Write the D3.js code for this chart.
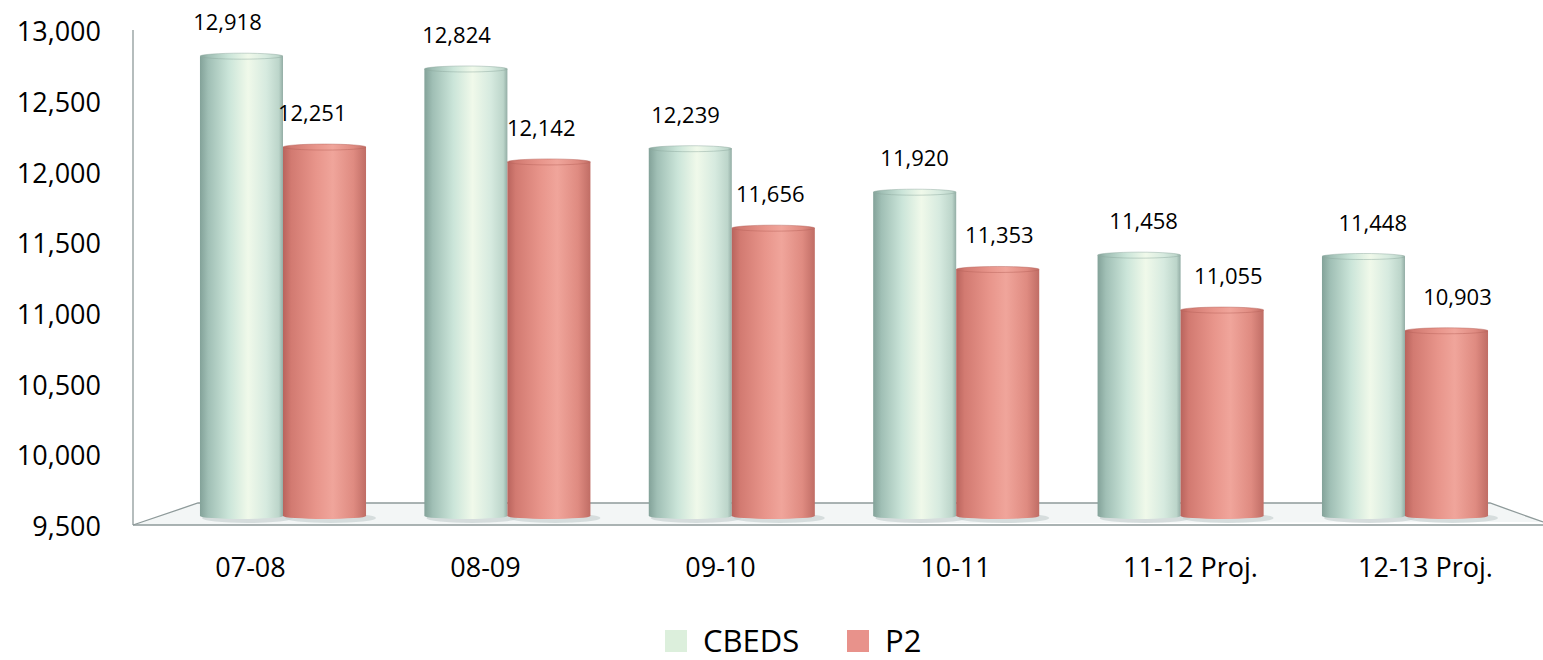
<!DOCTYPE html>
<html>
<head>
<meta charset="utf-8">
<script src="https://cdn.jsdelivr.net/npm/d3@7"></script>
<style>
  body { margin: 0; background: #fff; }
  svg { display: block; font-family: 'Open Sans', sans-serif; }
</style>
</head>
<body>
<svg id="chart"></svg>
<script>
const categories = ['07-08', '08-09', '09-10', '10-11', '11-12 Proj.', '12-13 Proj.'];
const seriesNames = ['CBEDS', 'P2'];
const cbeds = [12918, 12824, 12239, 11920, 11458, 11448];
const p2 = [12251, 12142, 11656, 11353, 11055, 10903];
const yTicks = [9500, 10000, 10500, 11000, 11500, 12000, 12500, 13000];

const width = 1543, height = 660;
const fmt = d3.format(',');

const svg = d3.select('#chart')
  .attr('width', width)
  .attr('height', height);

// front plane (axis labels, floor front edge) and back plane (bars) scales
let yFront = d3.scaleLinear().domain([9500, 13000]).range([527, 32]);
let yBack = d3.scaleLinear().domain([9500, 13000]).range([519, 42]);

let xFront = d3.scaleBand().domain(categories).range([133, 1543]);
let xBack = d3.scaleBand().domain(categories)
  .range([170.8, 1517.2]).paddingInner(0.26).paddingOuter(0.13);
let xLabel = d3.scaleBand().domain(categories)
  .range([155.3, 1529.6]).paddingInner(0.26).paddingOuter(0.13);
let xSeries = d3.scaleBand().domain(seriesNames).range([0, xBack.bandwidth()]);
let xSeriesLabel = d3.scaleBand().domain(seriesNames).range([0, xLabel.bandwidth()]);

// gradients for the cylinders
const defs = svg.append('defs');
const grads = {
  CBEDS: [[0, '#83a299'], [0.1, '#a0bfb5'], [0.35, '#cbe5d9'], [0.58, '#f0f9ea'], [0.8, '#d6eadf'], [0.95, '#bcd5ca'], [1, '#93ada5']],
  P2: [[0, '#b9645d'], [0.1, '#d27a71'], [0.4, '#e8958b'], [0.6, '#f0a59b'], [0.85, '#df8b81'], [1, '#c06d65']]
};
Object.keys(grads).forEach(k => {
  let g = defs.append('linearGradient').attr('id', 'g-' + k)
    .attr('x1', '0%').attr('x2', '100%').attr('y1', '0%').attr('y2', '0%');
  grads[k].forEach(s => g.append('stop').attr('offset', s[0]).attr('stop-color', s[1]));
});

// floor / walls
const floorBack = 503;
const floorFront = yFront(9500) - 2;
const frame = svg.append('g').attr('fill', 'none').attr('stroke', '#8e9a9a').attr('stroke-width', 1.3);
frame.append('path')
  .attr('d', `M${xFront.range()[0]},${floorFront} L198,${floorBack} L1490,${floorBack} L${xFront.range()[1]},${floorFront - 3}`)
  .attr('fill', '#f3f6f6');
frame.append('line')
  .attr('x1', xFront.range()[0]).attr('x2', xFront.range()[1])
  .attr('y1', floorFront).attr('y2', floorFront);
frame.append('line')
  .attr('x1', xFront.range()[0]).attr('x2', xFront.range()[0])
  .attr('y1', yFront(13000) - 2).attr('y2', floorFront);

// y axis
const yAxis = d3.axisLeft(yFront).tickValues(yTicks).tickFormat(fmt).tickSize(0).tickPadding(0);
svg.append('g')
  .attr('transform', 'translate(101,0)')
  .call(yAxis)
  .call(g => g.select('.domain').remove())
  .selectAll('text')
  .attr('font-size', 27)
  .attr('font-family', 'Open Sans')
  .attr('fill', '#000');

// x axis
const xAxis = d3.axisBottom(xFront).tickSize(0).tickPadding(0);
svg.append('g')
  .attr('transform', 'translate(0,558)')
  .call(xAxis)
  .call(g => g.select('.domain').remove())
  .selectAll('text')
  .attr('font-size', 27)
  .attr('font-family', 'Open Sans')
  .attr('fill', '#000');

// bars
const rows = [];
categories.forEach((c, i) => {
  rows.push({ cat: c, s: 'CBEDS', v: cbeds[i] });
  rows.push({ cat: c, s: 'P2', v: p2[i] });
});
const ry = 3;
const base = yBack(9500);

const bar = svg.append('g').selectAll('g.bar')
  .data(rows)
  .enter().append('g')
  .attr('class', 'bar')
  .attr('transform', d => `translate(${xBack(d.cat) + xSeries(d.s)},0)`);

const bw = xSeries.bandwidth();

// shadow on floor
bar.append('ellipse')
  .attr('cx', bw / 2 + 6).attr('cy', base - 1)
  .attr('rx', bw / 2 + 4).attr('ry', 5)
  .attr('fill', '#c9d3d3').attr('opacity', 0.7);

bar.append('path')
  .attr('d', d => {
    let top = yBack(d.v) + ry;
    let bot = base - ry;
    return `M0,${top} L0,${bot} A${bw / 2},${ry} 0 0 0 ${bw},${bot} L${bw},${top} Z`;
  })
  .attr('fill', d => `url(#g-${d.s})`);

bar.append('ellipse')
  .attr('cx', bw / 2)
  .attr('cy', d => yBack(d.v) + ry)
  .attr('rx', bw / 2)
  .attr('ry', ry)
  .attr('fill', d => `url(#g-${d.s})`)
  .attr('stroke', d => d.s === 'CBEDS' ? '#8ea89f' : '#b7635b')
  .attr('stroke-width', 0.8)
  .attr('stroke-opacity', 0.6);

// value labels
svg.append('g').selectAll('text')
  .data(rows)
  .enter().append('text')
  .attr('x', d => xLabel(d.cat) + xSeriesLabel(d.s) + xSeriesLabel.bandwidth() / 2)
  .attr('y', d => yBack(d.v) - 23)
  .attr('text-anchor', 'middle')
  .attr('font-size', 22)
  .attr('fill', '#000')
  .text(d => fmt(d.v));

// legend
const legendFill = { CBEDS: '#dcefdc', P2: '#e8928b' };
const legend = svg.append('g').attr('transform', 'translate(665,630)');
const legendX = { CBEDS: 0, P2: 182 };
seriesNames.forEach(s => {
  let g = legend.append('g').attr('transform', `translate(${legendX[s]},0)`);
  g.append('rect').attr('width', 22).attr('height', 22).attr('fill', legendFill[s]);
  g.append('text').attr('x', 38).attr('y', 22).attr('font-size', 31).attr('fill', '#000').text(s);
});
</script>
</body>
</html>
